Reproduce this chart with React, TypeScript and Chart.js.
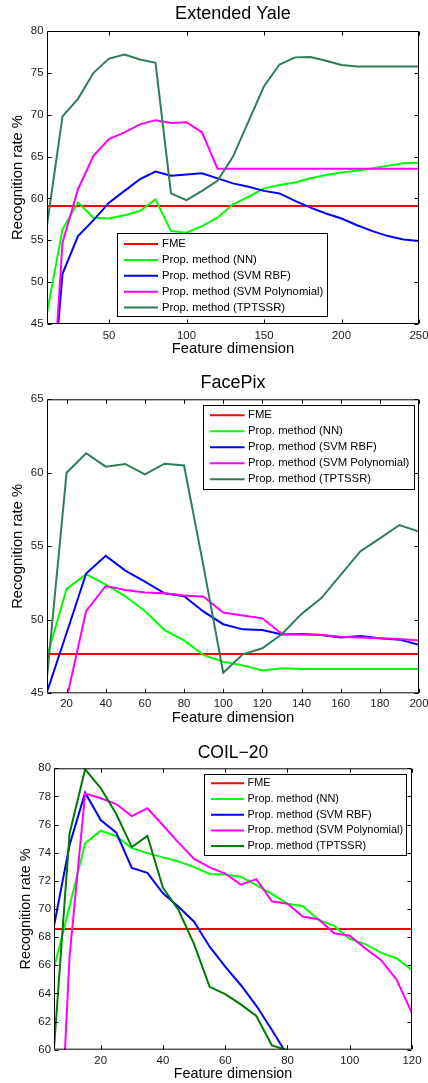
import { useEffect, useRef } from 'react';
import { Chart, registerables } from 'chart.js';

Chart.register(...registerables);

const FONT = '"Liberation Sans", Arial, Helvetica, sans-serif';

const seriesLabels = [
  'FME',
  'Prop. method (NN)',
  'Prop. method (SVM RBF)',
  'Prop. method (SVM Polynomial)',
  'Prop. method (TPTSSR)',
];

// ---------- Extended Yale ----------
const yaleDims = [10, 20, 30, 40, 50, 60, 70, 80, 90, 100, 110, 120, 130, 140, 150, 160, 170, 180, 190, 200, 210, 220, 230, 240, 250];
const yaleFmeDims = [10, 250];
const yaleFME = [59.1, 59.1];
const yaleNN = [46.3, 56.3, 59.5, 57.7, 57.6, 58.0, 58.5, 59.9, 56.1, 55.9, 56.7, 57.7, 59.3, 60.2, 61.2, 61.6, 61.9, 62.4, 62.8, 63.1, 63.3, 63.6, 63.9, 64.2, 64.25];
const yaleRBF = [28.6, 51.0, 55.5, 57.4, 59.5, 60.9, 62.3, 63.2, 62.7, 62.85, 63.0, 62.4, 61.8, 61.4, 60.9, 60.6, 59.7, 58.9, 58.2, 57.6, 56.8, 56.1, 55.5, 55.1, 54.9];
const yalePoly = [26.0, 54.7, 61.1, 65.1, 67.1, 67.9, 68.85, 69.35, 69.0, 69.1, 67.9, 63.55, 63.55, 63.55, 63.55, 63.55, 63.55, 63.55, 63.55, 63.55, 63.55, 63.55, 63.55, 63.55, 63.55];
const yaleTPTSSR = [56.8, 69.8, 71.9, 75.0, 76.7, 77.2, 76.6, 76.2, 60.6, 59.8, 60.9, 62.1, 65.0, 69.2, 73.4, 76.0, 76.85, 76.9, 76.45, 75.95, 75.75, 75.75, 75.75, 75.75, 75.75];
const yaleXTicks = [50, 100, 150, 200, 250];
const yaleYTicks = [45, 50, 55, 60, 65, 70, 75, 80];

// ---------- FacePix ----------
const faceDims = [10, 20, 30, 40, 50, 60, 70, 80, 90, 100, 110, 120, 130, 140, 150, 160, 170, 180, 190, 200];
const faceFmeDims = [10, 200];
const faceFME = [47.67, 47.67];
const faceNN = [47.5, 52.1, 53.1, 52.4, 51.6, 50.6, 49.3, 48.6, 47.6, 47.15, 46.9, 46.55, 46.7, 46.65, 46.65, 46.65, 46.65, 46.65, 46.65, 46.65];
const faceRBF = [45.1, 49.1, 53.15, 54.35, 53.35, 52.6, 51.8, 51.6, 50.55, 49.7, 49.35, 49.3, 49.0, 49.03, 48.97, 48.8, 48.9, 48.75, 48.65, 48.3];
const facePoly = [39.0, 44.6, 50.6, 52.3, 52.03, 51.85, 51.8, 51.65, 51.57, 50.5, 50.3, 50.1, 49.03, 49.0, 48.97, 48.85, 48.8, 48.74, 48.7, 48.6];
const faceTPTSSR = [46.1, 60.0, 61.33, 60.42, 60.6, 59.9, 60.62, 60.5, 53.6, 46.4, 47.65, 48.06, 49.03, 50.4, 51.46, 53.05, 54.65, 55.54, 56.45, 56.0];
const faceXTicks = [20, 40, 60, 80, 100, 120, 140, 160, 180, 200];
const faceYTicks = [45, 50, 55, 60, 65];

// ---------- COIL-20 ----------
const coilDims = [5, 10, 15, 20, 25, 30, 35, 40, 45, 50, 55, 60, 65, 70, 75, 80, 85, 90, 95, 100, 105, 110, 115, 120];
const coilFmeDims = [5, 120];
const coilFME = [68.58, 68.58];
const coilNN = [65.8, 70.2, 74.67, 75.57, 75.17, 74.32, 73.97, 73.67, 73.38, 72.98, 72.49, 72.46, 72.3, 71.7, 71.08, 70.37, 70.2, 69.22, 68.8, 67.87, 67.5, 66.9, 66.5, 65.67];
const coilRBF = [68.8, 74.55, 78.27, 76.32, 75.42, 72.92, 72.57, 71.12, 70.16, 69.1, 67.32, 65.9, 64.6, 63.12, 61.4, 59.6];
const coilPoly = [44.0, 66.6, 78.2, 77.87, 77.46, 76.6, 77.16, 75.95, 74.72, 73.56, 72.96, 72.52, 71.73, 72.12, 70.55, 70.38, 69.45, 69.27, 68.27, 68.1, 67.2, 66.38, 65.0, 62.6];
const coilTPTSSR = [60.1, 75.35, 79.93, 78.6, 76.75, 74.4, 75.2, 71.5, 69.93, 67.5, 64.47, 63.95, 63.22, 62.4, 60.3, 59.97];
const coilXTicks = [20, 40, 60, 80, 100, 120];
const coilYTicks = [60, 62, 64, 66, 68, 70, 72, 74, 76, 78, 80];

const pts = (xs: number[], ys: number[]) => ys.map((y, i) => ({ x: xs[i], y }));

const framePlugin = {
  id: 'matlabFrame',
  afterDatasetsDraw(chart: any, _args: any, opts: any) {
    const { ctx, chartArea: a, scales } = chart;
    ctx.save();
    ctx.strokeStyle = '#000';
    ctx.lineWidth = 1;
    const L = a.left + 0.5;
    const T = a.top + 0.5;
    const R = a.right - 0.5;
    const B = a.bottom - 0.5;
    ctx.beginPath();
    ctx.rect(L, T, R - L, B - T);
    const tl = 4;
    scales.x.ticks.forEach((t: any) => {
      const p = Math.round(scales.x.getPixelForValue(t.value)) + 0.5;
      ctx.moveTo(p, B);
      ctx.lineTo(p, B - tl);
      ctx.moveTo(p, T);
      ctx.lineTo(p, T + tl);
    });
    scales.y.ticks.forEach((t: any) => {
      const p = Math.round(scales.y.getPixelForValue(t.value)) + 0.5;
      ctx.moveTo(L, p);
      ctx.lineTo(L + tl, p);
      ctx.moveTo(R, p);
      ctx.lineTo(R - tl, p);
    });
    ctx.stroke();

    const lg = opts.legend;
    ctx.fillStyle = '#fff';
    ctx.fillRect(lg.x, lg.y, lg.w, lg.h);
    ctx.strokeStyle = '#000';
    ctx.lineWidth = 1;
    ctx.strokeRect(lg.x + 0.5, lg.y + 0.5, lg.w, lg.h);
    ctx.font = `${lg.fontSize}px ${FONT}`;
    ctx.textBaseline = 'middle';
    ctx.textAlign = 'left';
    chart.data.datasets.forEach((ds: any, i: number) => {
      const y = lg.y + lg.firstRow + i * lg.rowGap;
      ctx.strokeStyle = ds.borderColor;
      ctx.lineWidth = 2;
      ctx.beginPath();
      ctx.moveTo(lg.x + lg.lineStart, y);
      ctx.lineTo(lg.x + lg.lineEnd, y);
      ctx.stroke();
      ctx.fillStyle = '#000';
      ctx.fillText(ds.label, lg.x + lg.textStart, y);
    });
    ctx.restore();
  },
};

type PanelProps = {
  top: number;
  height: number;
  title: string;
  titleSize: number;
  titlePad: { top: number; bottom: number };
  dims: number[];
  fmeDims: number[];
  series: number[][];
  colors: string[];
  xMin: number;
  xMax: number;
  yMin: number;
  yMax: number;
  xTicks: number[];
  yTicks: number[];
  yAxisW: number;
  xAxisH: number;
  rightPad: number;
  xTickPad: number;
  yTickPad: number;
  axisTitleSize: number;
  xTitlePadBottom: number;
  yTitlePadTop: number;
  legend: any;
};

function Panel(p: PanelProps) {
  const ref = useRef<HTMLCanvasElement>(null);
  useEffect(() => {
    if (!ref.current) return;
    const datasets = p.series.map((vals, i) => ({
      label: seriesLabels[i],
      data: i === 0 ? pts(p.fmeDims, vals) : pts(p.dims, vals),
      borderColor: p.colors[i],
      backgroundColor: p.colors[i],
      borderWidth: 2,
      pointRadius: 0,
      tension: 0,
      fill: false,
      order: 5 - i,
    }));
    const tickFont = { family: FONT, size: 11.4 };
    const chart = new Chart(ref.current, {
      type: 'line',
      data: { datasets },
      plugins: [framePlugin],
      options: {
        animation: false,
        responsive: false,
        devicePixelRatio: 1,
        layout: { padding: { top: 0, left: 0, bottom: 0, right: p.rightPad } },
        plugins: {
          legend: { display: false },
          tooltip: { enabled: false },
          title: {
            display: true,
            text: p.title,
            fullSize: false,
            color: '#000',
            font: { family: FONT, size: p.titleSize, weight: 'normal', lineHeight: '20px' },
            padding: p.titlePad,
          },
          matlabFrame: { legend: p.legend },
        } as any,
        scales: {
          x: {
            type: 'linear',
            min: p.xMin,
            max: p.xMax,
            afterBuildTicks: (s: any) => {
              s.ticks = p.xTicks.map((v) => ({ value: v }));
            },
            afterFit: (s: any) => {
              s.height = p.xAxisH;
              s.paddingLeft = 0;
              s.paddingRight = 0;
            },
            grid: { display: false, drawTicks: false },
            border: { display: false },
            ticks: { padding: p.xTickPad, font: tickFont, color: '#1a1a1a', maxRotation: 0, autoSkip: false },
            title: {
              display: true,
              text: 'Feature dimension',
              color: '#000',
              font: { family: FONT, size: p.axisTitleSize, lineHeight: '17px' },
              padding: { top: 0, bottom: p.xTitlePadBottom },
            },
          },
          y: {
            type: 'linear',
            min: p.yMin,
            max: p.yMax,
            afterBuildTicks: (s: any) => {
              s.ticks = p.yTicks.map((v) => ({ value: v }));
            },
            afterFit: (s: any) => {
              s.width = p.yAxisW;
              s.paddingTop = 0;
              s.paddingBottom = 0;
            },
            grid: { display: false, drawTicks: false },
            border: { display: false },
            ticks: { padding: p.yTickPad, font: tickFont, color: '#1a1a1a', autoSkip: false },
            title: {
              display: true,
              text: 'Recognition rate %',
              color: '#000',
              font: { family: FONT, size: p.axisTitleSize, lineHeight: '17px' },
              padding: { top: p.yTitlePadTop, bottom: 0 },
            },
          },
        },
      } as any,
    });
    return () => chart.destroy();
  }, []);
  return (
    <div style={{ position: 'absolute', left: 0, top: p.top, width: 428, height: p.height }}>
      <canvas ref={ref} width={428} height={p.height} style={{ display: 'block', width: 428, height: p.height }} />
    </div>
  );
}

const colors12 = ['#ff0000', '#00ff00', '#0000ff', '#ff00ff', '#2e7d57'];
const colors3 = ['#ff0000', '#00ff00', '#0000ff', '#ff00ff', '#007a00'];

export default function App() {
  return (
    <div style={{ position: 'absolute', left: 0, top: 0, width: 428, height: 1083, background: '#fff', overflow: 'hidden' }}>
      <Panel
        top={0}
        height={362}
        title="Extended Yale"
        titleSize={18}
        titlePad={{ top: 3.8, bottom: 7.2 }}
        dims={yaleDims}
        fmeDims={yaleFmeDims}
        series={[yaleFME, yaleNN, yaleRBF, yalePoly, yaleTPTSSR]}
        colors={colors12}
        xMin={10}
        xMax={250}
        yMin={45}
        yMax={80}
        xTicks={yaleXTicks}
        yTicks={yaleYTicks}
        yAxisW={47}
        xAxisH={38}
        rightPad={9}
        xTickPad={4.6}
        yTickPad={3.5}
        axisTitleSize={14.8}
        xTitlePadBottom={4.1}
        yTitlePadTop={9.3}
        legend={{ x: 117, y: 233, w: 210, h: 83, firstRow: 11, rowGap: 15.9, lineStart: 7, lineEnd: 41, textStart: 45, fontSize: 11.3 }}
      />
      <Panel
        top={362}
        height={368}
        title="FacePix"
        titleSize={18}
        titlePad={{ top: 11.1, bottom: 6.2 }}
        dims={faceDims}
        fmeDims={faceFmeDims}
        series={[faceFME, faceNN, faceRBF, facePoly, faceTPTSSR]}
        colors={colors12}
        xMin={10}
        xMax={200}
        yMin={45}
        yMax={65}
        xTicks={faceXTicks}
        yTicks={faceYTicks}
        yAxisW={47}
        xAxisH={36.7}
        rightPad={9}
        xTickPad={3.7}
        yTickPad={3.5}
        axisTitleSize={14.8}
        xTitlePadBottom={3.3}
        yTitlePadTop={9.3}
        legend={{ x: 203, y: 43, w: 211, h: 84, firstRow: 10.3, rowGap: 16, lineStart: 7, lineEnd: 41.5, textStart: 45, fontSize: 11.3 }}
      />
      <Panel
        top={730}
        height={353}
        title="COIL−20"
        titleSize={17.5}
        titlePad={{ top: 13.2, bottom: 5.1 }}
        dims={coilDims}
        fmeDims={coilFmeDims}
        series={[coilFME, coilNN, coilRBF, coilPoly, coilTPTSSR]}
        colors={colors3}
        xMin={5}
        xMax={120}
        yMin={60}
        yMax={80}
        xTicks={coilXTicks}
        yTicks={coilYTicks}
        yAxisW={54}
        xAxisH={33.3}
        rightPad={16}
        xTickPad={4.3}
        yTickPad={3}
        axisTitleSize={14.3}
        xTitlePadBottom={0.5}
        yTitlePadTop={17.3}
        legend={{ x: 204, y: 44, w: 202, h: 81, firstRow: 9.3, rowGap: 15.7, lineStart: 7, lineEnd: 40, textStart: 43.5, fontSize: 10.9 }}
      />
    </div>
  );
}
